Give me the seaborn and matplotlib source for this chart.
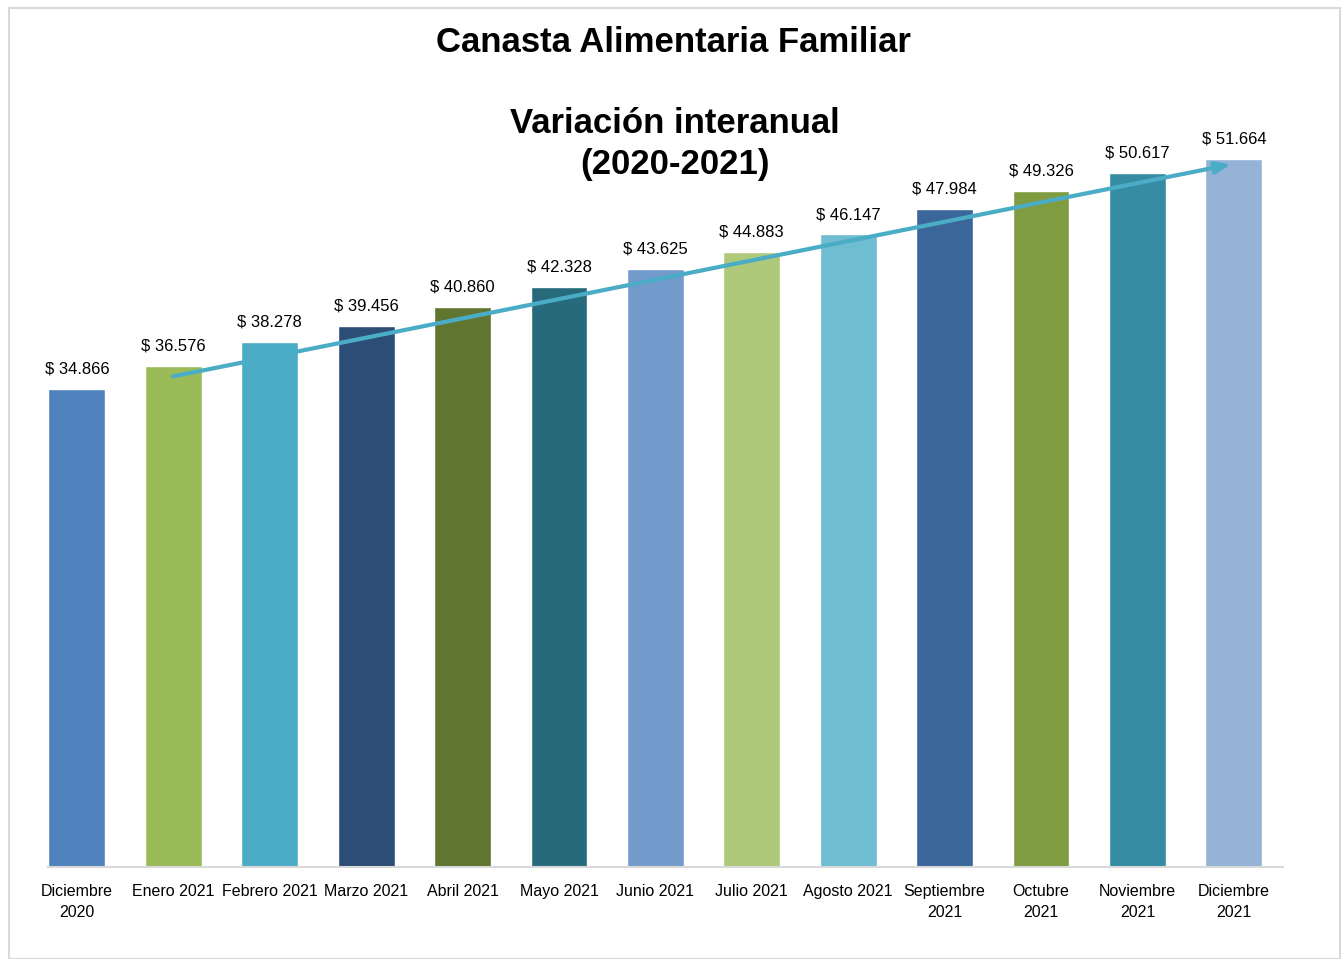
import seaborn as sns
import matplotlib.pyplot as plt
from matplotlib.patches import Rectangle

meses = ["Diciembre\n2020", "Enero 2021", "Febrero 2021", "Marzo 2021", "Abril 2021",
         "Mayo 2021", "Junio 2021", "Julio 2021", "Agosto 2021", "Septiembre\n2021",
         "Octubre\n2021", "Noviembre\n2021", "Diciembre\n2021"]
valores = [34866, 36576, 38278, 39456, 40860, 42328, 43625, 44883, 46147, 47984,
           49326, 50617, 51664]
etiquetas = ["$ 34.866", "$ 36.576", "$ 38.278", "$ 39.456", "$ 40.860", "$ 42.328",
             "$ 43.625", "$ 44.883", "$ 46.147", "$ 47.984", "$ 49.326", "$ 50.617",
             "$ 51.664"]
colores = ["#4F81BD", "#9BBB59", "#4BACC6", "#2C4D75", "#5F7530", "#276A7C", "#729ACA",
           "#AFC97A", "#6FBDD1", "#3A6699", "#7F9C40", "#358CA3", "#95B3D7"]

# tendencia (flecha)
flecha_x = [0.97, 12.0]
flecha_y = [35750, 51300]

sns.set_style("white")
plt.rcParams["font.family"] = ["Liberation Sans", "DejaVu Sans"]
plt.rcParams["text.color"] = "black"
plt.rcParams["xtick.color"] = "black"

fig = plt.figure(figsize=(13.44, 9.59), dpi=100)
ax = fig.add_axes([48 / 1344, (959 - 867) / 959, (1283 - 48) / 1344, (867 - 50) / 959])

sns.barplot(x=meses, y=valores, hue=meses, palette=colores, legend=False,
            width=0.59, saturation=1, ax=ax)
ax.set_ylim(0, 59600)
ax.set_xlim(-0.3, 12.51)

for i, (v, t) in enumerate(zip(valores, etiquetas)):
    ax.text(i, v + 900, t, ha="center", va="bottom", fontsize=12)

ax.annotate("", xy=(flecha_x[1], flecha_y[1]), xytext=(flecha_x[0], flecha_y[0]),
            arrowprops=dict(arrowstyle="-|>,head_length=0.9,head_width=0.35",
                            color="#4BACC6", lw=3))

ax.set_yticks([])
ax.tick_params(axis="x", length=0, labelsize=11.5, pad=12)
for lbl in ax.get_xticklabels():
    lbl.set_linespacing(1.5)
for s in ["top", "right", "left"]:
    ax.spines[s].set_visible(False)
ax.spines["bottom"].set_color("#D9D9D9")
ax.spines["bottom"].set_linewidth(1.5)

fig.text(673 / 1344, 1 - 43 / 959, "Canasta Alimentaria Familiar", ha="center", va="center",
         fontsize=25, fontweight="bold")
fig.text(675 / 1344, 1 - 144 / 959, "Variación interanual\n(2020-2021)", ha="center",
         va="center", fontsize=25, fontweight="bold", linespacing=1.27)

fig.patches.append(Rectangle((9 / 1344, 0), 1331 / 1344, 1 - 8 / 959, transform=fig.transFigure,
                             fill=False, edgecolor="#D9D9D9", lw=1.5))

plt.savefig("out.png", dpi=100)
